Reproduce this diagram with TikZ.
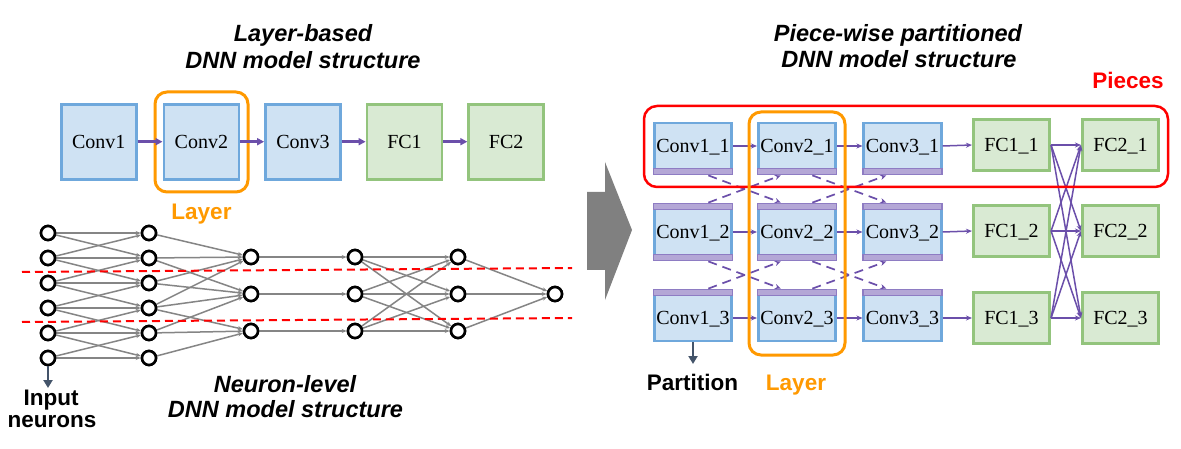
\documentclass[tikz,border=0pt]{standalone}
\usepackage{fontspec}
\setmainfont{Liberation Serif}
\newfontfamily\arialf{Liberation Sans}
\usetikzlibrary{arrows.meta,calc}
\definecolor{bfill}{HTML}{CFE2F3}
\definecolor{bdraw}{HTML}{6FA8DC}
\definecolor{gfill}{HTML}{D9EAD3}
\definecolor{gdraw}{HTML}{93C47D}
\definecolor{parrc}{HTML}{6B4FAA}
\definecolor{sfill}{HTML}{B4A7D6}
\definecolor{sdraw}{HTML}{8E7CC3}
\definecolor{orangec}{HTML}{FF9900}
\definecolor{redc}{HTML}{FF0000}
\definecolor{ngray}{HTML}{858585}
\definecolor{bigarrow}{HTML}{808080}
\definecolor{darkarr}{HTML}{44546A}
\begin{document}
\begin{tikzpicture}[x=1pt,y=-1pt,
  lbox/.style={draw=bdraw, fill=bfill, line width=2.8pt, minimum width=75pt, minimum height=75pt, inner sep=0pt, font=\fontsize{20}{24}\selectfont, text height=13.5pt, text depth=0pt},
  lgbox/.style={lbox, draw=gdraw, fill=gfill},
  cbox/.style={draw=bdraw, fill=bfill, line width=2.6pt, minimum width=77.5pt, minimum height=46pt, inner sep=0pt, font=\fontsize{20}{24}\selectfont, text height=13.5pt, text depth=0pt},
  fbox/.style={cbox, draw=gdraw, fill=gfill, minimum width=76.5pt, minimum height=50.5pt},
  stripbox/.style={draw=sdraw, fill=sfill, line width=1.8pt, minimum width=79pt, minimum height=6pt, inner sep=0pt},
  neuron/.style={circle, draw=black, fill=white, line width=2.6pt, minimum size=14pt, inner sep=0pt},
  nedge/.style={draw=ngray, line width=1.5pt, -{Stealth[length=5pt,width=4pt]}},
  larr/.style={draw=parrc, line width=3pt, -{Triangle[length=7pt,width=7pt]}},
  parr/.style={draw=parrc, line width=1.5pt, -{Stealth[length=6pt,width=5pt]}},
  dasharr/.style={parr, line width=1.7pt, dash pattern=on 9pt off 6pt},
  darr/.style={draw=darkarr, line width=2.5pt, -{Triangle[length=8pt,width=9pt]}},
  reddash/.style={draw=redc, line width=2pt, dash pattern=on 8pt off 5pt},
  title/.style={font=\arialf\bfseries\itshape\fontsize{23.5}{28}\selectfont, anchor=base, inner sep=0pt},
  lab/.style={font=\arialf\bfseries\fontsize{22.5}{27}\selectfont, anchor=base, inner sep=0pt}
]
\useasboundingbox (0,0) rectangle (1181,449);
\fill[white] (0,0) rectangle (1181,449);

% ---------- left: layer-based ----------
\node[title] (tl1) at (303,42) {Layer-based};
\node[title] (tl2) at (303,69) {DNN model structure};

\node[lbox] (L1) at (98.8,141.7) {Conv1};
\node[lbox] (L2) at (201.4,141.7) {Conv2};
\node[lbox] (L3) at (303,141.7) {Conv3};
\node[lgbox] (L4) at (404.5,141.7) {FC1};
\node[lgbox] (L5) at (506.2,141.7) {FC2};
\draw[orangec, line width=3pt, rounded corners=12pt] (155,92) rectangle (248,192);
\foreach \a/\b in {1/2,2/3,3/4,4/5} \draw[larr] (L\a) -- (L\b);
\node[lab, text=orangec] (layl) at (201.5,220) {Layer};

% ---------- left: neuron level ----------
\foreach \i in {1,...,6} {
  \node[neuron] (na\i) at (48,{233+25*(\i-1)}) {};
  \node[neuron] (nb\i) at (149,{233+25*(\i-1)}) {};
}
\foreach \i/\y in {1/257,2/294,3/331} {
  \node[neuron] (nc\i) at (251,\y) {};
  \node[neuron] (nd\i) at (355,\y) {};
  \node[neuron] (ne\i) at (458,\y) {};
}
\node[neuron] (nout) at (555,294) {};

\foreach \i/\j in {1/1,1/2,2/1,2/2,2/3,3/2,3/3,3/4,4/3,4/4,4/5,5/4,5/5,5/6,6/5,6/6}
  \draw[nedge] (na\i) -- (nb\j);
\foreach \i/\j in {1/1,2/1,3/1,4/1,2/2,3/2,4/2,5/2,4/3,5/3,6/3}
  \draw[nedge] (nb\i) -- (nc\j);
\foreach \i in {1,2,3} {
  \draw[nedge] (nc\i) -- (nd\i);
  \draw[nedge] (ne\i) -- (nout);
  \foreach \j in {1,2,3} \draw[nedge] (nd\i) -- (ne\j);
}
\coordinate (rd1a) at (22,272);
\coordinate (rd1b) at (572,268);
\coordinate (rd2a) at (22,322);
\coordinate (rd2b) at (572,318);
\draw[reddash] (rd1a) -- (rd1b);
\draw[reddash] (rd2a) -- (rd2b);
% redraw neurons on top
\foreach \i in {1,...,6} {
  \node[neuron] at (na\i) {};
  \node[neuron] at (nb\i) {};
}
\foreach \i in {1,2,3} {
  \node[neuron] at (nc\i) {};
  \node[neuron] at (nd\i) {};
  \node[neuron] at (ne\i) {};
}
\node[neuron] at (nout) {};

\coordinate (inp) at (48,388);
\draw[darr] (na6) -- (inp);
\node[lab] (inl1) at (51,405) {Input};
\node[lab] (inl2) at (52,427) {neurons};
\node[title] (tn1) at (285,392) {Neuron-level};
\node[title] (tn2) at (285.5,417) {DNN model structure};

% ---------- big arrow ----------
\fill[bigarrow] (587,192) -- (605,192) -- (605,162) -- (632,230) -- (605,300) -- (605,270) -- (587,270) -- cycle;

% ---------- right: piece-wise ----------
\node[title] (tr1) at (898,42) {Piece-wise partitioned};
\node[title] (tr2) at (899,68) {DNN model structure};
\node[lab, text=redc] (pcl) at (1128,89) {Pieces};

\foreach \c/\x in {1/693,2/797,3/902.5} {
  \foreach \r/\y in {1/146,2/232,3/318} {
    \node[cbox] (c\c\r) at (\x,\y) {Conv\c\_\r};
  }
  \node[stripbox] (sb\c1) at ($(c\c1.center)+(0,25.5)$) {};
  \node[stripbox] (st\c2) at ($(c\c2.center)+(0,-25.5)$) {};
  \node[stripbox] (sb\c2) at ($(c\c2.center)+(0,25.5)$) {};
  \node[stripbox] (st\c3) at ($(c\c3.center)+(0,-25.5)$) {};
}
\foreach \r/\y in {1/145,2/231,3/318} {
  \node[fbox] (fa\r) at (1011.5,\y) {FC1\_\r};
  \node[fbox] (fb\r) at (1120.5,\y) {FC2\_\r};
}
\foreach \r in {1,2,3} {
  \draw[parr] (c1\r) -- (c2\r);
  \draw[parr] (c2\r) -- (c3\r);
  \draw[parr] (c3\r.east) -- (fa\r.west);
  \foreach \s in {1,2,3} \draw[parr] (fa\r.east) -- (fb\s.west);
}
\foreach \c/\d in {1/2,2/3} {
  \foreach \r/\s in {1/2,2/3} {
    \draw[dasharr] ($(sb\c\r.south west)!0.69!(sb\c\r.south east)$) -- ($(st\d\s.north west)!0.3!(st\d\s.north east)$);
    \draw[dasharr] ($(st\c\s.north west)!0.69!(st\c\s.north east)$) -- ($(sb\d\r.south west)!0.3!(sb\d\r.south east)$);
  }
}
\draw[redc, line width=2.5pt, rounded corners=13pt] (644,106) rectangle (1168,187);
\draw[orangec, line width=3pt, rounded corners=12pt] (749,112) rectangle (845,355);

\coordinate (part) at (693,364);
\draw[darr] (c13) -- (part);
\node[lab] (partl) at (692.5,390) {Partition};
\node[lab, text=orangec] (layr) at (796,390) {Layer};
\end{tikzpicture}
\end{document}
